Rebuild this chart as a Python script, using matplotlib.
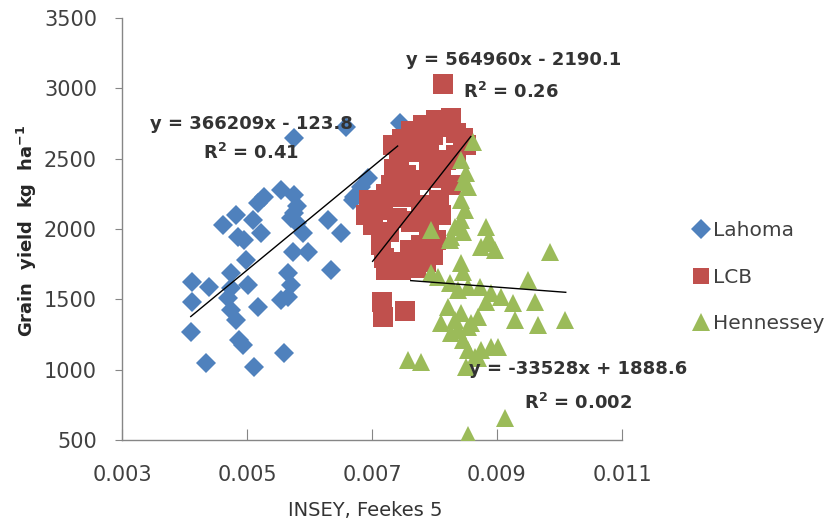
import numpy as np
import matplotlib
matplotlib.use("Agg")
import matplotlib.pyplot as plt

plt.rcParams['font.family'] = ['DejaVu Sans']

# Lahoma (INSEY, yield)
lahoma_x = [0.00575, 0.00658, 0.00744, 0.00682, 0.00693, 0.00671, 0.00669,
            0.00554, 0.00575, 0.00527, 0.00517, 0.00482, 0.00461, 0.00509,
            0.00575, 0.00580, 0.00589, 0.00629, 0.00650, 0.00485, 0.00495,
            0.00522, 0.00573, 0.00597, 0.00498, 0.00634, 0.00474, 0.00412,
            0.00439, 0.00474, 0.00501, 0.00565, 0.00570, 0.00565, 0.00554,
            0.00412, 0.00469, 0.00474, 0.00482, 0.00517, 0.00410, 0.00487,
            0.00493, 0.00434, 0.00511, 0.00559, 0.00580, 0.00570]
lahoma_y = [2644, 2727, 2755, 2300, 2360, 2229, 2206,
            2277, 2241, 2229, 2184, 2099, 2028, 2063,
            2113, 2042, 1971, 2063, 1971, 1945, 1921,
            1971, 1838, 1838, 1779, 1708, 1685, 1625,
            1590, 1578, 1601, 1685, 1601, 1518, 1495,
            1483, 1507, 1424, 1353, 1447, 1270, 1211,
            1175, 1045, 1021, 1116, 2160, 2080]

# LCB
lcb_x = [0.00814, 0.00803, 0.00827, 0.00815, 0.00770, 0.00798, 0.00835,
         0.00846, 0.00851, 0.00743, 0.00766, 0.00791, 0.00791, 0.00819,
         0.00835, 0.00730, 0.00754, 0.00778, 0.00811, 0.00827, 0.00695,
         0.00717, 0.00746, 0.00778, 0.00807, 0.00811, 0.00702, 0.00727,
         0.00762, 0.00791, 0.00803, 0.00690, 0.00714, 0.00778, 0.00798,
         0.00719, 0.00738, 0.00762, 0.00787, 0.00722, 0.00746, 0.00770,
         0.00716, 0.00718, 0.00752,
         0.00733, 0.00748, 0.00762, 0.00782, 0.00735, 0.00722, 0.00760,
         0.00770, 0.00760, 0.00780, 0.00706, 0.00740, 0.00795]
lcb_y = [3030, 2774, 2788, 2724, 2646, 2668, 2682,
         2646, 2597, 2490, 2547, 2561, 2454, 2490,
         2526, 2312, 2383, 2348, 2362, 2312, 2206,
         2135, 2227, 2171, 2206, 2099, 2028, 1978,
         2049, 1992, 1921, 2099, 1886, 1886, 1815,
         1793, 1765, 1744, 1765, 1708, 1708, 1722,
         1480, 1375, 1420,
         2600, 2640, 2700, 2740, 2430, 2250, 2290,
         2060, 1850, 2110, 2160, 2080, 2410]

# Hennessey
henn_x = [0.00861, 0.00843, 0.00851, 0.00845, 0.00853, 0.00843, 0.00848,
          0.00843, 0.00845, 0.00795, 0.00827, 0.00883, 0.00885, 0.00891,
          0.00875, 0.00896, 0.00984, 0.00843, 0.00845, 0.00795, 0.00805,
          0.00824, 0.00838, 0.00853, 0.00872, 0.00891, 0.00883, 0.00907,
          0.00926, 0.00950, 0.00960, 0.00928, 0.00966, 0.01008, 0.00821,
          0.00811, 0.00832, 0.00843, 0.00853, 0.00827, 0.00845, 0.00837,
          0.00859, 0.00869, 0.00853, 0.00875, 0.00891, 0.00902, 0.00864,
          0.00869, 0.00757, 0.00778, 0.00851, 0.00912, 0.00853, 0.00832,
          0.00824]
henn_y = [2620, 2490, 2398, 2336, 2301, 2206, 2135,
          2064, 1980, 1992, 1945, 2016, 1921, 1900,
          1874, 1850, 1838, 1758, 1696, 1687, 1660,
          1614, 1566, 1590, 1590, 1543, 1483, 1519,
          1472, 1637, 1483, 1353, 1317, 1353, 1447,
          1329, 1353, 1400, 1306, 1260, 1211, 1282,
          1332, 1376, 1140, 1140, 1163, 1163, 1092,
          1080, 1069, 1057, 1021, 654, 536, 2016,
          1921]

# trend lines (Excel linear fits): slope, intercept, x range
fits = {
    'Lahoma': (366209, -123.8, 0.0041, 0.00741),
    'LCB': (564960, -2190.1, 0.00701, 0.00858),
    'Hennessey': (-33528, 1888.6, 0.00762, 0.0101),
}

blue = '#4F81BD'
red = '#C0504D'
green = '#9BBB59'

fig = plt.figure(figsize=(8.26, 5.31), dpi=100)
ax = fig.add_axes([122 / 826, 91 / 531, 500 / 826, 422 / 531])

ax.plot(lahoma_x, lahoma_y, 'D', color=blue, ms=10.5, mew=0, label='Lahoma', zorder=3)
ax.plot(lcb_x, lcb_y, 's', color=red, ms=14, mew=0, label='LCB', zorder=3)
ax.plot(henn_x, henn_y, '^', color=green, ms=13, mew=0, label='Hennessey', zorder=3)

for name, (m, b, x0, x1) in fits.items():
    xs = np.array([x0, x1])
    ax.plot(xs, m * xs + b, color='black', lw=1, zorder=4)

eq_kw = dict(fontsize=13, fontweight='bold', color='#333333', ha='center', va='center', zorder=5)
ax.text(0.00507, 2746, 'y = 366209x - 123.8', **eq_kw)
ax.text(0.00507, 2540, 'R$^\\mathbf{2}$ = 0.41', **eq_kw)
ax.text(0.00926, 3201, 'y = 564960x - 2190.1', **eq_kw)
ax.text(0.00922, 2974, 'R$^\\mathbf{2}$ = 0.26', **eq_kw)
ax.text(0.01030, 1005, 'y = -33528x + 1888.6', **eq_kw)
ax.text(0.01030, 763, 'R$^\\mathbf{2}$ = 0.002', **eq_kw)

ax.set_xlim(0.003, 0.011)
ax.set_ylim(500, 3500)
ax.set_xticks([0.003, 0.005, 0.007, 0.009, 0.011])
ax.set_xticklabels(['0.003', '0.005', '0.007', '0.009', '0.011'])
ax.set_yticks(range(500, 3501, 500))

for s in ['top', 'right']:
    ax.spines[s].set_visible(False)
for s in ['left', 'bottom']:
    ax.spines[s].set_color('#868686')
    ax.spines[s].set_linewidth(1)
ax.tick_params(axis='y', direction='out', length=5, color='#868686', labelsize=15,
               labelcolor='#404040', pad=13)
ax.tick_params(axis='x', direction='in', length=8, color='#868686', labelsize=15,
               labelcolor='#404040', pad=18)

ax.set_xlabel('INSEY, Feekes 5', fontsize=14, color='#333333')
ax.xaxis.set_label_coords(0.486, -0.145)
ax.set_ylabel('Grain  yield  kg  ha$^{\\mathbf{-1}}$', fontsize=13, fontweight='bold',
              color='#262626')
ax.yaxis.set_label_coords(-0.165, 0.495)

leg = ax.legend(loc='center left', bbox_to_anchor=(1.14, 0.386), frameon=False,
                borderpad=0, borderaxespad=0, labelspacing=1.36, handletextpad=0.2,
                handlelength=0.85, fontsize=14.5)
for t in leg.get_texts():
    t.set_color('#404040')
for h, ms in zip(leg.legend_handles, [10, 12, 12.3]):
    h.set_markersize(ms)

fig.savefig('out.png', dpi=100)
